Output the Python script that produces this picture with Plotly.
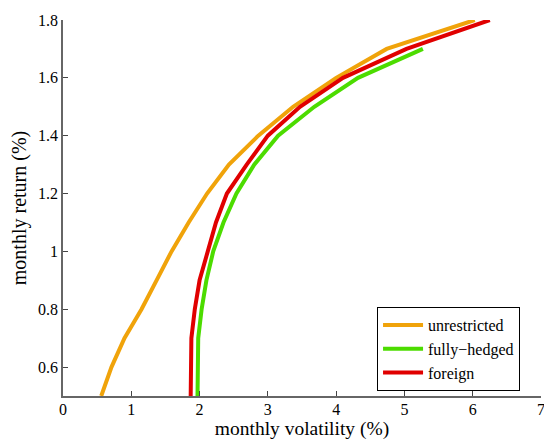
import plotly.graph_objects as go

returns_unres = [0.5, 0.6, 0.7, 0.8, 0.9, 1.0, 1.1, 1.2, 1.3, 1.4, 1.5, 1.6, 1.7, 1.8]
vol_unres = [0.56, 0.71, 0.90, 1.15, 1.37, 1.59, 1.84, 2.11, 2.43, 2.86, 3.37, 4.0, 4.74, 6.03]

returns_hedged = [0.5, 0.6, 0.7, 0.8, 0.9, 1.0, 1.1, 1.2, 1.3, 1.4, 1.5, 1.6, 1.7]
vol_hedged = [1.97, 1.97, 1.98, 2.03, 2.10, 2.20, 2.35, 2.54, 2.80, 3.15, 3.68, 4.32, 5.27]

returns_foreign = [0.5, 0.6, 0.7, 0.8, 0.9, 1.0, 1.1, 1.2, 1.3, 1.4, 1.5, 1.6, 1.7, 1.8]
vol_foreign = [1.87, 1.87, 1.88, 1.93, 2.00, 2.12, 2.24, 2.40, 2.69, 3.00, 3.47, 4.10, 5.03, 6.25]

x_ticks = [0, 1, 2, 3, 4, 5, 6, 7]
y_ticks = [0.6, 0.8, 1.0, 1.2, 1.4, 1.6, 1.8]
y_labels = ["0.6", "0.8", "1", "1.2", "1.4", "1.6", "1.8"]

font = "Liberation Serif"

fig = go.Figure()
fig.add_trace(go.Scatter(x=vol_unres, y=returns_unres, mode="lines", name="unrestricted",
                         line=dict(color="#f0a30a", width=4)))
fig.add_trace(go.Scatter(x=vol_hedged, y=returns_hedged, mode="lines", name="fully\u2212hedged",
                         line=dict(color="#4cdc00", width=4)))
fig.add_trace(go.Scatter(x=vol_foreign, y=returns_foreign, mode="lines", name="foreign",
                         line=dict(color="#e00000", width=4)))

fig.update_layout(
    width=544, height=441,
    margin=dict(l=63, r=3, t=20, b=45, autoexpand=False),
    paper_bgcolor="white", plot_bgcolor="white",
    font=dict(family=font, size=16, color="black"),
    legend=dict(x=0.657, y=0.013, xanchor="left", yanchor="bottom",
                bordercolor="black", borderwidth=1, bgcolor="white",
                font=dict(family=font, size=16), tracegroupgap=0, itemwidth=40),
    showlegend=True,
)
fig.update_xaxes(range=[0, 7], tickvals=x_ticks, showgrid=False, zeroline=False,
                 showline=True, linecolor="#666666", linewidth=1.5,
                 ticks="inside", ticklen=5, tickcolor="#444444",
                 ticklabeloverflow="allow", ticklabelstandoff=-2,
                 title=dict(text="monthly volatility (%)", font=dict(family=font, size=19.5), standoff=3),
                 tickfont=dict(family=font, size=16))
fig.update_yaxes(range=[0.5, 1.8], tickvals=y_ticks, ticktext=y_labels, showgrid=False, zeroline=False,
                 showline=True, linecolor="#666666", linewidth=1.5,
                 ticks="inside", ticklen=5, tickcolor="#444444",
                 title=dict(text="monthly return (%)", font=dict(family=font, size=20), standoff=6),
                 tickfont=dict(family=font, size=16))

fig.write_html("out.html", config={"displayModeBar": False},
               post_script="document.body.style.margin='0';document.body.style.padding='0';document.body.style.overflow='hidden';")
